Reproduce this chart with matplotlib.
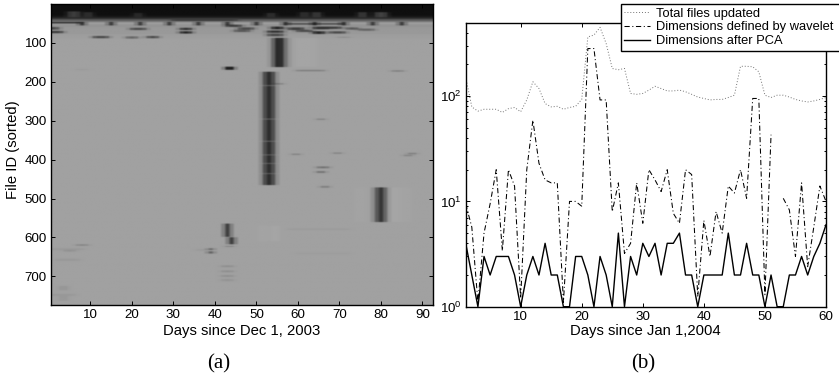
import numpy as np
import matplotlib
matplotlib.use("Agg")
import matplotlib.pyplot as plt
from matplotlib.ticker import LogLocator, NullFormatter

plt.rcParams['font.family'] = ['Liberation Sans', 'DejaVu Sans']
plt.rcParams['mathtext.fontset'] = 'custom'
plt.rcParams['mathtext.rm'] = 'Liberation Sans'
plt.rcParams['mathtext.default'] = 'rm'

# ---------- panel (b) data ----------
days_b = list(range(1, 61))
total_files = [152, 79, 72, 75, 75, 75, 70, 76, 78, 71,
               92, 137, 118, 85, 79, 80, 75, 78, 80, 93,
               365, 380, 450, 316, 183, 178, 183, 106, 104, 106,
               114, 124, 118, 112, 112, 114, 110, 104, 98, 95,
               92, 93, 93, 97, 102, 192, 192, 190, 170, 102,
               97, 102, 102, 98, 93, 90, 88, 90, 93, 97]
wavelet_dims = [9.5, 5.7, 1.1, 5, 9.5, 20, 3.4, 20, 14, 1.2,
                20, 59, 23, 16, 15, 15, 1.1, 10, 10, 9,
                283, 283, 92, 92, 8, 15, 3.2, 4, 15, 6.2,
                20, 16, 12.4, 20, 7.7, 6.2, 20, 18, 1.25, 6.6,
                3, 8, 5, 14, 12, 20, 10.7, 95, 95, 1.3,
                43, 0, 10.7, 8.3, 3, 15, 2.4, 5.7, 14, 10]
pca_dims = [4, 2, 1, 3, 2, 3, 3, 3, 2, 1,
            2, 3, 2, 4, 2, 2, 1, 1, 3, 3,
            2, 1, 3, 2, 1, 5, 1, 3, 2, 4,
            3, 4, 2, 4, 4, 5, 2, 2, 1, 2,
            2, 2, 2, 5, 2, 2, 4, 2, 2, 1,
            2, 1, 1, 2, 2, 3, 2, 3, 4, 6]
legend_labels = ['Total files updated', 'Dimensions defined by wavelet', 'Dimensions after PCA']

# ---------- panel (a) data: (first file, last file, first day, last day, gray level) ----------
n_files, n_days = 773, 92
background = 0.63
top_band = [(1, 30, 1, 92, 0.06), (31, 35, 1, 92, 0.1), (36, 39, 1, 92, 0.2), (40, 44, 1, 92, 0.36),
            (45, 47, 1, 92, 0.5), (48, 52, 1, 92, 0.62), (53, 60, 1, 92, 0.58),
            (61, 78, 1, 92, 0.6), (79, 88, 1, 92, 0.62)]
top_lumps = [(20, 34, 5, 7, 0.24), (22, 34, 9, 10, 0.2), (24, 34, 21, 22, 0.18),
             (24, 34, 53, 54, 0.2), (22, 34, 61, 62, 0.2), (22, 34, 64, 65, 0.24),
             (22, 34, 75, 76, 0.24), (22, 34, 79, 81, 0.26), (38, 44, 30, 45, 0.24)]
weekly_days = [8, 15, 22, 29, 36, 43, 50, 57, 64, 71, 78, 85]
weekly_rows = (47, 55)
weekly_level = 0.0
streaks = [(47, 50, 1, 7, 0.2), (60, 66, 1, 2, 0.3), (70, 75, 1, 3, 0.25),
           (83, 88, 11, 14, 0.3), (84, 89, 19, 21, 0.4), (83, 88, 24, 26, 0.3),
           (62, 67, 20, 23, 0.3), (62, 67, 32, 34, 0.2), (71, 76, 32, 34, 0.15),
           (54, 59, 43, 46, 0.25), (61, 66, 46, 49, 0.3), (67, 72, 45, 48, 0.35),
           (59, 65, 54, 56, 0.15), (69, 74, 53, 56, 0.2), (77, 83, 53, 56, 0.3),
           (61, 67, 58, 61, 0.25), (67, 72, 60, 63, 0.3), (59, 65, 64, 67, 0.2),
           (71, 77, 64, 66, 0.15), (59, 64, 68, 70, 0.25), (71, 76, 68, 71, 0.3),
           (61, 66, 72, 74, 0.35), (64, 69, 75, 78, 0.4), (50, 53, 58, 70, 0.3),
           (162, 169, 43, 44, 0.0), (170, 173, 60, 66, 0.5), (171, 174, 83, 85, 0.5),
           (204, 207, 55, 56, 0.5), (295, 298, 65, 66, 0.5), (385, 388, 59, 60, 0.5),
           (382, 385, 69, 70, 0.5), (388, 391, 86, 87, 0.5), (383, 386, 87, 88, 0.48),
           (418, 422, 65, 67, 0.45), (430, 434, 65, 66, 0.42), (468, 472, 66, 67, 0.48),
           (472, 476, 79, 80, 0.2), (168, 170, 7, 9, 0.6), (85, 87, 70, 72, 0.55)]
bars = [(88, 162, 54, 54, 0.42), (88, 162, 55, 56, 0.1), (88, 162, 57, 57, 0.5),
        (88, 162, 58, 58, 0.6), (88, 162, 59, 64, 0.645),
        (175, 465, 52, 52, 0.26), (175, 465, 53, 53, 0.12), (175, 465, 54, 54, 0.26),
        (472, 560, 74, 77, 0.64), (472, 560, 78, 78, 0.6), (472, 560, 79, 79, 0.35),
        (472, 560, 80, 80, 0.1), (472, 560, 81, 81, 0.42), (472, 560, 82, 84, 0.65),
        (472, 560, 85, 87, 0.64)]
bar_gaps = [(209, 211, 52, 54, 0.36), (295, 297, 52, 54, 0.36), (352, 354, 52, 54, 0.36),
            (387, 389, 52, 54, 0.34), (409, 411, 52, 54, 0.34), (435, 437, 52, 54, 0.34)]
lower_marks = [(565, 598, 43, 43, 0.0), (600, 617, 44, 44, 0.0), (622, 624, 43, 44, 0.5),
               (628, 632, 39, 39, 0.3), (636, 641, 39, 39, 0.25), (672, 676, 42, 44, 0.56),
               (685, 689, 42, 44, 0.56), (697, 701, 42, 44, 0.56), (707, 712, 42, 44, 0.58),
               (570, 610, 51, 52, 0.645), (570, 610, 54, 55, 0.65), (618, 621, 7, 9, 0.52),
               (628, 632, 1, 8, 0.6), (632, 636, 4, 6, 0.57), (655, 660, 2, 7, 0.6),
               (725, 735, 3, 4, 0.58), (745, 750, 1, 6, 0.6), (750, 762, 3, 4, 0.59),
               (578, 580, 58, 72, 0.6), (630, 634, 36, 38, 0.6), (640, 642, 60, 72, 0.61)]
ticks_a_x = [10, 20, 30, 40, 50, 60, 70, 80, 90]
ticks_a_y = [100, 200, 300, 400, 500, 600, 700]

field = np.full((n_files, n_days), background)
for group in (top_band, top_lumps, streaks, bars, bar_gaps, lower_marks):
    for r0, r1, d0, d1, level in group:
        field[r0 - 1:r1, d0 - 1:d1] = level
for d in weekly_days:
    field[weekly_rows[0] - 1:weekly_rows[1], d - 1] = weekly_level

# soften the cells a little along both directions, as the printed image is
blur_days = np.array([1, 3, 1]) / 5
blur_rows = np.array([1, 2, 3, 2, 1]) / 9
pad_d = np.pad(field, ((0, 0), (1, 1)), mode='edge')
field = np.apply_along_axis(lambda v: np.convolve(v, blur_days, mode='valid'), 1, pad_d)
pad_r = np.pad(field, ((2, 2), (0, 0)), mode='edge')
field = np.apply_along_axis(lambda v: np.convolve(v, blur_rows, mode='valid'), 0, pad_r)

W, H = 839, 378
fig = plt.figure(figsize=(W / 100, H / 100), dpi=100)

def box(x0, x1, top, bottom):
    return [x0 / W, 1 - bottom / H, (x1 - x0) / W, (bottom - top) / H]

fs = 9.6
label_fs = 10.7
ax1 = fig.add_axes(box(51, 432.7, 4, 305))
ax1.imshow(field, cmap='gray', vmin=0, vmax=1, aspect='auto', interpolation='hanning',
           extent=(0.5, n_days + 0.5, n_files + 0.5, 0.5))
ax1.set_xticks(ticks_a_x)
ax1.set_yticks(ticks_a_y)
ax1.tick_params(direction='in', top=True, right=True, length=3, width=0.7,
                labelsize=fs, pad=3)
fig.text(13.5 / W, 1 - 150 / H, 'File ID (sorted)', rotation=90, ha='center', va='center',
         fontsize=label_fs)

ax2 = fig.add_axes(box(465.7, 826, 22.7, 306.7))
l1, = ax2.plot(days_b, total_files, color='0.45', lw=0.7, ls=(0, (1, 2)))
l2, = ax2.plot(days_b, wavelet_dims, color='black', lw=0.75, ls=(0, (5, 2.5, 1, 2.5)))
l3, = ax2.plot(days_b, pca_dims, color='black', lw=1.0)
ax2.set_yscale('log', nonpositive='mask')
ax2.set_xlim(1, 60)
ax2.set_ylim(1, 498)
ax2.set_xticks([10, 20, 30, 40, 50, 60])
ax2.yaxis.set_major_locator(LogLocator(base=10, numticks=5))
ax2.yaxis.set_minor_locator(LogLocator(base=10, subs=range(2, 10), numticks=12))
ax2.yaxis.set_minor_formatter(NullFormatter())
ax2.tick_params(which='both', direction='in', top=True, right=True, labelsize=fs, pad=3, width=0.7)
ax2.tick_params(which='major', length=3)
ax2.tick_params(which='minor', length=1.6)

for ax in (ax1, ax2):
    for s in ax.spines.values():
        s.set_linewidth(1.0)

leg = ax2.legend([l1, l2, l3], legend_labels, loc='upper left',
                 bbox_to_anchor=(620.7 / W, 1 - 4.3 / H, 222 / W, 0), bbox_transform=fig.transFigure,
                 mode='expand', borderaxespad=0, borderpad=0.25, fancybox=False, framealpha=1,
                 edgecolor='black', fontsize=9.25, labelspacing=0.15,
                 handlelength=2.0, handletextpad=0.5)
leg.get_frame().set_linewidth(1.0)
leg.set_zorder(10)

fig.text(242 / W, 1 - 331 / H, 'Days since Dec 1, 2003', ha='center', va='center', fontsize=label_fs)
fig.text(645.7 / W, 1 - 331 / H, 'Days since Jan 1,2004', ha='center', va='center', fontsize=label_fs)
fig.text(219 / W, 1 - 364 / H, '(a)', ha='center', va='center', fontsize=15, family='Liberation Serif')
fig.text(643 / W, 1 - 364 / H, '(b)', ha='center', va='center', fontsize=15, family='Liberation Serif')

fig.savefig('out.png', dpi=100)
